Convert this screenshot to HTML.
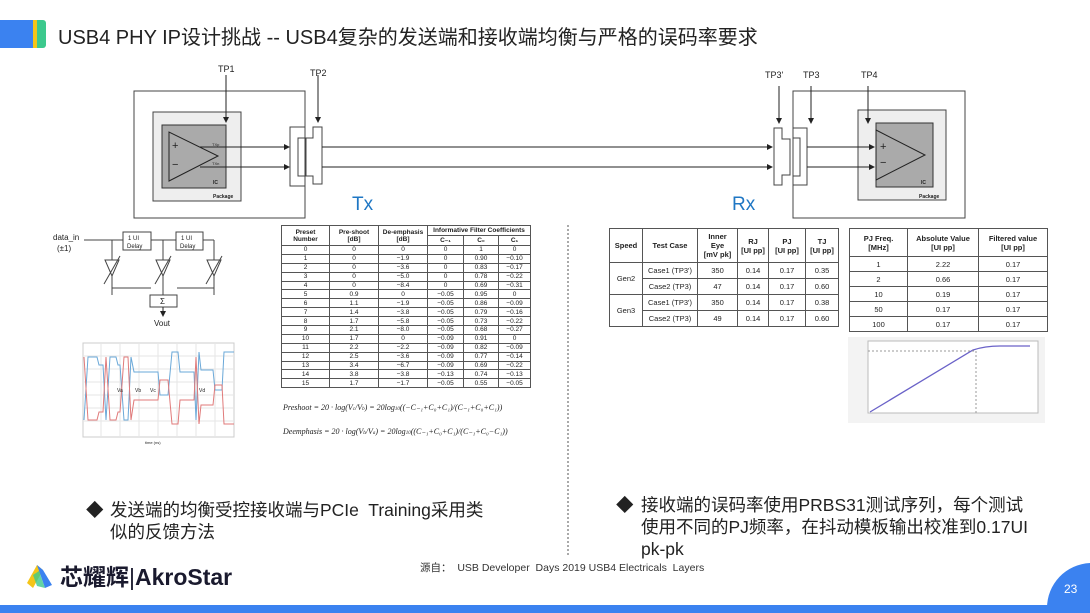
<!DOCTYPE html>
<html style="width:1090px;height:613px;overflow:hidden"><head><meta charset="utf-8"><style>
*{margin:0;padding:0;box-sizing:border-box}
body{width:1090px;height:613px;background:#fff;position:relative;overflow:hidden;font-family:"Liberation Sans","Noto Sans CJK SC",sans-serif;color:#222}
.a{position:absolute}
table{border-collapse:collapse;table-layout:fixed;position:absolute;font-family:"Liberation Sans","Noto Sans CJK SC",sans-serif}
td{border:1px solid #555;text-align:center;padding:0;color:#222;overflow:hidden;white-space:nowrap}
#pt td{font-size:6.5px;height:8.9px;line-height:7px}
#pt tr.h td{font-weight:bold;font-size:6.5px;height:10px}
#t1 td,#t2 td{font-size:7.5px;line-height:9px}
#t1 .h td,#t2 .h td{font-weight:bold}
.b{font-size:17.5px;line-height:22px;white-space:nowrap}
</style></head><body>
<div class="a" style="left:0;top:20px;width:34px;height:28px;background:#3b82f0"></div>
<div class="a" style="left:33px;top:20px;width:4px;height:28px;background:#f5c518"></div>
<div class="a" style="left:37px;top:20px;width:9px;height:28px;background:#3cc98d;border-radius:0 3px 3px 0"></div>
<div class="a" style="left:58px;top:21px;font-size:20px;color:#222;white-space:nowrap">USB4 PHY IP设计挑战 -- USB4复杂的发送端和接收端均衡与严格的误码率要求</div>

<svg class="a" style="left:0;top:0" width="1090" height="613" viewBox="0 0 1090 613">
<defs><marker id="ar" markerWidth="6" markerHeight="6" refX="5" refY="3" orient="auto"><path d="M0,0L6,3L0,6z" fill="#222"/></marker></defs>
<g fill="none" stroke="#444" stroke-width="1">
<rect x="134" y="91" width="171" height="127" fill="#fff"/>
<rect x="153" y="112" width="88" height="89" fill="#eee"/>
<rect x="162" y="125" width="64" height="63" fill="#aaa" stroke="#333"/>
<path d="M169,132L169,181L218,156z" fill="#aaa" stroke="#222"/>
<line x1="226" y1="75" x2="226" y2="122" stroke="#222" marker-end="url(#ar)"/>
<line x1="318" y1="75" x2="318" y2="122" stroke="#222" marker-end="url(#ar)"/>
<path d="M290,127H305V138H298V176H305V186H290z" fill="#fff"/>
<path d="M313,127H322V184H313V176H306V138H313z" fill="#fff"/>
<line x1="200" y1="147" x2="289" y2="147" stroke="#222" marker-end="url(#ar)"/>
<line x1="200" y1="167" x2="289" y2="167" stroke="#222" marker-end="url(#ar)"/>
<line x1="322" y1="147" x2="770" y2="147" stroke="#222"/>
<line x1="322" y1="167" x2="770" y2="167" stroke="#222"/>
<rect x="793" y="91" width="172" height="127" fill="#fff"/>
<rect x="858" y="110" width="88" height="90" fill="#eee"/>
<rect x="876" y="123" width="57" height="64" fill="#aaa" stroke="#333"/>
<path d="M876,130L876,180L925,155z" fill="#aaa" stroke="#222"/>
<path d="M774,128H782V139H790V175H782V185H774z" fill="#fff"/>
<path d="M793,128H807V185H793V176H800V138H793z" fill="#fff"/>
<line x1="779" y1="86" x2="779" y2="123" stroke="#222" marker-end="url(#ar)"/>
<line x1="811" y1="86" x2="811" y2="123" stroke="#222" marker-end="url(#ar)"/>
<line x1="868" y1="86" x2="868" y2="123" stroke="#222" marker-end="url(#ar)"/>
<line x1="752" y1="147" x2="772" y2="147" stroke="#222" marker-end="url(#ar)"/>
<line x1="752" y1="167" x2="772" y2="167" stroke="#222" marker-end="url(#ar)"/>
<line x1="807" y1="147" x2="874" y2="147" stroke="#222" marker-end="url(#ar)"/>
<line x1="807" y1="167" x2="874" y2="167" stroke="#222" marker-end="url(#ar)"/>
<line x1="568" y1="225" x2="568" y2="555" stroke="#555" stroke-dasharray="2,2"/>
<line x1="84" y1="240" x2="123" y2="240"/><rect x="123" y="232" width="28" height="18"/>
<line x1="151" y1="240" x2="176" y2="240"/><rect x="176" y="232" width="27" height="18"/>
<line x1="203" y1="240" x2="214" y2="240"/>
<line x1="112" y1="240" x2="112" y2="295"/><line x1="163" y1="240" x2="163" y2="295"/><line x1="214" y1="240" x2="214" y2="295"/>
<path d="M105,260H119L112,276zM156,260H170L163,276zM207,260H221L214,276z" fill="#fff"/>
<line x1="104" y1="284" x2="120" y2="256"/><line x1="155" y1="284" x2="171" y2="256"/><line x1="206" y1="284" x2="222" y2="256"/>
<path d="M112,288H151M214,288H177"/>
<rect x="150" y="295" width="27" height="12" fill="#fff"/>
<line x1="163" y1="307" x2="163" y2="316" marker-end="url(#ar)" stroke="#222"/>
<rect x="83" y="343" width="151" height="94" stroke="#ccc"/>
<g stroke="#e6e6e6"><path d="M83,356H234M83,369H234M83,382H234M83,395H234M83,408H234M83,421H234M101,343V437M120,343V437M139,343V437M158,343V437M177,343V437M196,343V437M215,343V437"/></g>
<path d="M84,420L88,357H97L99,365H103L106,420L110,357H116L118,365H120L124,420H128L131,357L134,372H158L160,395H168L172,352H178L180,372H194L196,420L199,352L201,370H213L215,390H222L224,352H234" stroke="#6aa8d8"/>
<path d="M84,357L88,420H97L99,412H103L106,357L110,420H116L118,412H120L124,357H128L131,420L134,400H158L160,380H168L172,424H178L180,400H194L196,357L199,424L201,405H213L215,385H222L224,424H234" stroke="#e07a7a"/>
<rect x="848" y="337" width="197" height="86" fill="#f3f3f3" stroke="none"/>
<rect x="868" y="341" width="170" height="72" fill="#fff" stroke="#bbb"/>
<path d="M870,412L973,350Q985,346 1000,346H1030" stroke="#6a62c8" stroke-width="1.3"/>
<path d="M868,351H976V413" stroke="#999" stroke-dasharray="2,2"/>
</g>
<path d="M1090,563 A45,45 0 0 0 1047,608 L1047,613 L1090,613 Z" fill="#3b82f0"/>
<rect x="0" y="605" width="1090" height="8" fill="#3b82f0"/>
<text x="1064" y="593" font-size="12" fill="#fff" font-family="Liberation Sans,sans-serif">23</text>
<g font-family="Liberation Sans,sans-serif" fill="#222">
<text x="218" y="72" font-size="9">TP1</text><text x="310" y="76" font-size="9">TP2</text>
<text x="765" y="78" font-size="9">TP3'</text><text x="803" y="78" font-size="9">TP3</text><text x="861" y="78" font-size="9">TP4</text>
<text x="172" y="149" font-size="11">+</text><text x="172" y="168" font-size="11">−</text>
<text x="212" y="146" font-size="4">TXp</text><text x="212" y="165" font-size="4">TXn</text>
<text x="213" y="184" font-size="5" font-weight="bold">IC</text><text x="213" y="198" font-size="5" font-weight="bold">Package</text>
<text x="880" y="150" font-size="11">+</text><text x="880" y="166" font-size="11">−</text>
<text x="921" y="184" font-size="5" font-weight="bold">IC</text><text x="919" y="198" font-size="5" font-weight="bold">Package</text>
<text x="352" y="210" font-size="19" fill="#1f77c4">Tx</text>
<text x="732" y="210" font-size="19" fill="#1f77c4">Rx</text>
<text x="53" y="240" font-size="8">data_in</text><text x="57" y="251" font-size="8">(±1)</text>
<text x="128" y="240" font-size="6">1 UI</text><text x="127" y="248" font-size="6">Delay</text>
<text x="181" y="240" font-size="6">1 UI</text><text x="180" y="248" font-size="6">Delay</text>
<text x="160" y="304" font-size="8">Σ</text><text x="154" y="326" font-size="8">Vout</text>
<text x="145" y="444" font-size="4">time (ns)</text>
<text x="117" y="392" font-size="5">Va</text><text x="135" y="392" font-size="5">Vb</text><text x="150" y="392" font-size="5">Vc</text><text x="199" y="392" font-size="5">Vd</text>
<text x="283" y="410" font-size="8" font-family="Liberation Serif,serif" font-style="italic">Preshoot = 20 · log(V<tspan font-size="5">c</tspan>/V<tspan font-size="5">b</tspan>) = 20log<tspan font-size="5">10</tspan>((−C₋₁+C₀+C₁)/(C₋₁+C₀+C₁))</text>
<text x="283" y="434" font-size="8" font-family="Liberation Serif,serif" font-style="italic">Deemphasis = 20 · log(V<tspan font-size="5">b</tspan>/V<tspan font-size="5">a</tspan>) = 20log<tspan font-size="5">10</tspan>((C₋₁+C₀+C₁)/(C₋₁+C₀−C₁))</text>
</g>
</svg>

<table id="pt" style="left:281px;top:225px;width:249px">
<colgroup><col style="width:48px"><col style="width:49px"><col style="width:49px"><col style="width:36px"><col style="width:35px"><col style="width:32px"></colgroup>
<tr class="h"><td rowspan="2">Preset<br>Number</td><td rowspan="2">Pre-shoot<br>[dB]</td><td rowspan="2">De-emphasis<br>[dB]</td><td colspan="3">Informative Filter Coefficients</td></tr>
<tr class="h"><td>C₋₁</td><td>C₀</td><td>C₁</td></tr>
<tr><td>0</td><td>0</td><td>0</td><td>0</td><td>1</td><td>0</td></tr>
<tr><td>1</td><td>0</td><td>−1.9</td><td>0</td><td>0.90</td><td>−0.10</td></tr>
<tr><td>2</td><td>0</td><td>−3.6</td><td>0</td><td>0.83</td><td>−0.17</td></tr>
<tr><td>3</td><td>0</td><td>−5.0</td><td>0</td><td>0.78</td><td>−0.22</td></tr>
<tr><td>4</td><td>0</td><td>−8.4</td><td>0</td><td>0.69</td><td>−0.31</td></tr>
<tr><td>5</td><td>0.9</td><td>0</td><td>−0.05</td><td>0.95</td><td>0</td></tr>
<tr><td>6</td><td>1.1</td><td>−1.9</td><td>−0.05</td><td>0.86</td><td>−0.09</td></tr>
<tr><td>7</td><td>1.4</td><td>−3.8</td><td>−0.05</td><td>0.79</td><td>−0.16</td></tr>
<tr><td>8</td><td>1.7</td><td>−5.8</td><td>−0.05</td><td>0.73</td><td>−0.22</td></tr>
<tr><td>9</td><td>2.1</td><td>−8.0</td><td>−0.05</td><td>0.68</td><td>−0.27</td></tr>
<tr><td>10</td><td>1.7</td><td>0</td><td>−0.09</td><td>0.91</td><td>0</td></tr>
<tr><td>11</td><td>2.2</td><td>−2.2</td><td>−0.09</td><td>0.82</td><td>−0.09</td></tr>
<tr><td>12</td><td>2.5</td><td>−3.6</td><td>−0.09</td><td>0.77</td><td>−0.14</td></tr>
<tr><td>13</td><td>3.4</td><td>−6.7</td><td>−0.09</td><td>0.69</td><td>−0.22</td></tr>
<tr><td>14</td><td>3.8</td><td>−3.8</td><td>−0.13</td><td>0.74</td><td>−0.13</td></tr>
<tr><td>15</td><td>1.7</td><td>−1.7</td><td>−0.05</td><td>0.55</td><td>−0.05</td></tr>
</table>

<table id="t1" style="left:609px;top:228px;width:229px">
<colgroup><col style="width:33px"><col style="width:55px"><col style="width:40px"><col style="width:31px"><col style="width:37px"><col style="width:33px"></colgroup>
<tr class="h"><td style="height:34px">Speed</td><td>Test Case</td><td>Inner<br>Eye<br>[mV pk]</td><td>RJ<br>[UI pp]</td><td>PJ<br>[UI pp]</td><td>TJ<br>[UI pp]</td></tr>
<tr><td rowspan="2">Gen2</td><td style="height:16px">Case1 (TP3')</td><td>350</td><td>0.14</td><td>0.17</td><td>0.35</td></tr>
<tr><td style="height:16px">Case2 (TP3)</td><td>47</td><td>0.14</td><td>0.17</td><td>0.60</td></tr>
<tr><td rowspan="2">Gen3</td><td style="height:16px">Case1 (TP3')</td><td>350</td><td>0.14</td><td>0.17</td><td>0.38</td></tr>
<tr><td style="height:16px">Case2 (TP3)</td><td>49</td><td>0.14</td><td>0.17</td><td>0.60</td></tr>
</table>

<table id="t2" style="left:849px;top:228px;width:198px">
<colgroup><col style="width:58px"><col style="width:71px"><col style="width:69px"></colgroup>
<tr class="h"><td style="height:28px">PJ Freq.<br>[MHz]</td><td>Absolute Value<br>[UI pp]</td><td>Filtered value<br>[UI pp]</td></tr>
<tr><td style="height:15px">1</td><td>2.22</td><td>0.17</td></tr>
<tr><td style="height:15px">2</td><td>0.66</td><td>0.17</td></tr>
<tr><td style="height:15px">10</td><td>0.19</td><td>0.17</td></tr>
<tr><td style="height:15px">50</td><td>0.17</td><td>0.17</td></tr>
<tr><td style="height:15px">100</td><td>0.17</td><td>0.17</td></tr>
</table>

<div class="a b" style="left:86px;top:499px">◆</div>
<div class="a b" style="left:110px;top:499px">发送端的均衡受控接收端与PCIe&nbsp; Training采用类<br>似的反馈方法</div>
<div class="a b" style="left:616px;top:494px">◆</div>
<div class="a b" style="left:641px;top:494px">接收端的误码率使用PRBS31测试序列，每个测试<br>使用不同的PJ频率，在抖动模板输出校准到0.17UI<br>pk-pk</div>
<div class="a" style="left:420px;top:560px;font-size:10.5px;color:#333;white-space:nowrap">源自：&nbsp; USB Developer&nbsp; Days 2019 USB4 Electricals&nbsp; Layers</div>

<svg class="a" style="left:25px;top:565px" width="30" height="25" viewBox="0 0 30 25">
<path d="M12,0L2,18L8,23L18,5z" fill="#f5c518"/><path d="M12,0L18,5L27,20L20,23z" fill="#3b82f0"/><path d="M8,10L14,6L20,23L12,21z" fill="#3cc98d" opacity=".8"/>
</svg>
<div class="a" style="left:60px;top:562px;font-size:23px;line-height:30px;font-weight:bold;color:#1a1a2e;white-space:nowrap">芯耀辉<span style="font-weight:normal">|</span>AkroStar</div>
</body></html>
